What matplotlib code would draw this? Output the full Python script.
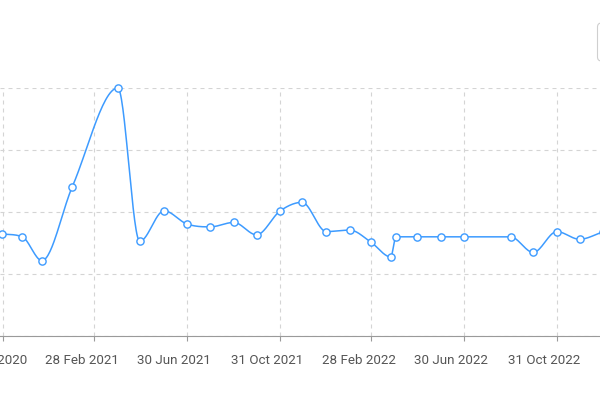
#!/usr/bin/env python3
"""Monthly series line chart (cropped view)"""

import datetime as dt

import numpy as np
import matplotlib
matplotlib.use("Agg")
import matplotlib.pyplot as plt
import matplotlib.dates as mdates
from matplotlib.patches import FancyBboxPatch
from matplotlib.transforms import IdentityTransform, ScaledTranslation

plt.rcParams['font.family'] = ['Roboto', 'DejaVu Sans']

#--- data
#
point_dates = ["2020-10-29", "2020-11-25", "2020-12-21", "2021-01-30",
               "2021-03-31", "2021-04-29", "2021-05-31", "2021-06-30",
               "2021-07-31", "2021-08-31", "2021-09-30", "2021-10-31",
               "2021-11-29", "2021-12-31", "2022-01-31", "2022-02-28",
               "2022-03-26", "2022-04-02", "2022-04-30", "2022-05-31",
               "2022-06-30", "2022-08-31", "2022-09-30", "2022-10-31",
               "2022-11-30", "2022-12-31"]
values = [41.1, 40.0, 30.4, 60.2,
          100.0, 38.2, 50.5, 45.2,
          44.0, 45.8, 40.8, 50.4,
          53.9, 42.1, 42.7, 37.8,
          31.9, 40.0, 40.0, 40.0,
          40.0, 40.0, 33.7, 42.1,
          39.0, 42.0]
tick_dates = ["2020-10-31", "2021-02-28", "2021-06-30", "2021-10-31",
              "2022-02-28", "2022-06-30", "2022-10-31"]
y_ticks = [0, 25, 50, 75, 100]

LINE_C = '#3d9bff'
GRID_C = '#d4d4d4'


def to_num(dates):
    return mdates.date2num([dt.datetime.strptime(d, "%Y-%m-%d") for d in dates])


def monotone_curve(x, y, n=30):
    """monotone cubic (Fritsch-Carlson) through the points, for drawing"""
    x = np.asarray(x, float)
    y = np.asarray(y, float)
    h = np.diff(x)
    d = np.diff(y) / h
    m = np.zeros_like(y)
    m[0], m[-1] = d[0], d[-1]
    for i in range(1, len(y) - 1):
        if d[i-1] * d[i] <= 0:
            m[i] = 0.0
        else:
            m[i] = (d[i-1] + d[i]) / 2.0
    for i in range(len(d)):
        if d[i] == 0:
            m[i] = m[i+1] = 0.0
            continue
        a, b = m[i] / d[i], m[i+1] / d[i]
        s = a * a + b * b
        if s > 9:
            t = 3.0 / np.sqrt(s)
            m[i], m[i+1] = t * a * d[i], t * b * d[i]
    xs, ys = [], []
    for i in range(len(d)):
        t = np.linspace(0, 1, n, endpoint=False)
        h00 = 2*t**3 - 3*t**2 + 1
        h10 = t**3 - 2*t**2 + t
        h01 = -2*t**3 + 3*t**2
        h11 = t**3 - t**2
        xs.append(x[i] + t * h[i])
        ys.append(h00*y[i] + h10*h[i]*m[i] + h01*y[i+1] + h11*h[i]*m[i+1])
    xs.append([x[-1]])
    ys.append([y[-1]])
    return np.concatenate(xs), np.concatenate(ys)


def main():
    fig = plt.figure(figsize=(6, 4), dpi=100)
    # plot area runs off the left edge: y labels are cropped away
    ax = fig.add_axes([0.0, 0.16, 1.0, 0.62])

    x = to_num(point_dates)
    cx, cy = monotone_curve(x, values)
    ax.plot(cx, cy, color=LINE_C, lw=1.1, zorder=3, clip_on=False)
    ax.plot(x, values, ls='none', marker='o', ms=5.2, mfc='white',
            mec=LINE_C, mew=1.0, zorder=4, clip_on=False)

    t0 = to_num(["2020-10-31"])[0]
    ax.set_xlim(t0 - 4.35, t0 + 787.0)
    ax.set_ylim(y_ticks[0], y_ticks[-1])

    ticks = to_num(tick_dates)
    ax.set_xticks(ticks)
    ax.set_xticklabels([dt.datetime.strptime(d, "%Y-%m-%d").strftime("%d %b %Y")
                        for d in tick_dates])
    ax.set_yticks(y_ticks)
    ax.set_yticklabels([])
    ax.tick_params(axis='y', length=0)
    ax.tick_params(axis='x', length=3.6, width=0.8, color='#9a9a9a',
                   labelsize=9.6, labelcolor='#555555', pad=9.5)
    # labels sit about 12px left of their ticks in the original
    shift = ScaledTranslation(-0.125, 0, fig.dpi_scale_trans)
    for lbl in ax.get_xticklabels():
        lbl.set_transform(lbl.get_transform() + shift)

    ax.grid(True, color=GRID_C, lw=0.8, dashes=(3.6, 3.6))
    for s in ['left', 'right', 'top']:
        ax.spines[s].set_visible(False)
    ax.spines['bottom'].set_color('#9a9a9a')
    ax.spines['bottom'].set_linewidth(0.8)

    # legend box sitting mostly outside the crop
    box = FancyBboxPatch((597.5, 339), 40, 38,
                         boxstyle="round,pad=0,rounding_size=4",
                         transform=IdentityTransform(), facecolor='white',
                         edgecolor='#cfcfcf', lw=0.8)
    fig.patches.append(box)

    fig.savefig("out.png", dpi=100)


if __name__ == "__main__":
    main()
